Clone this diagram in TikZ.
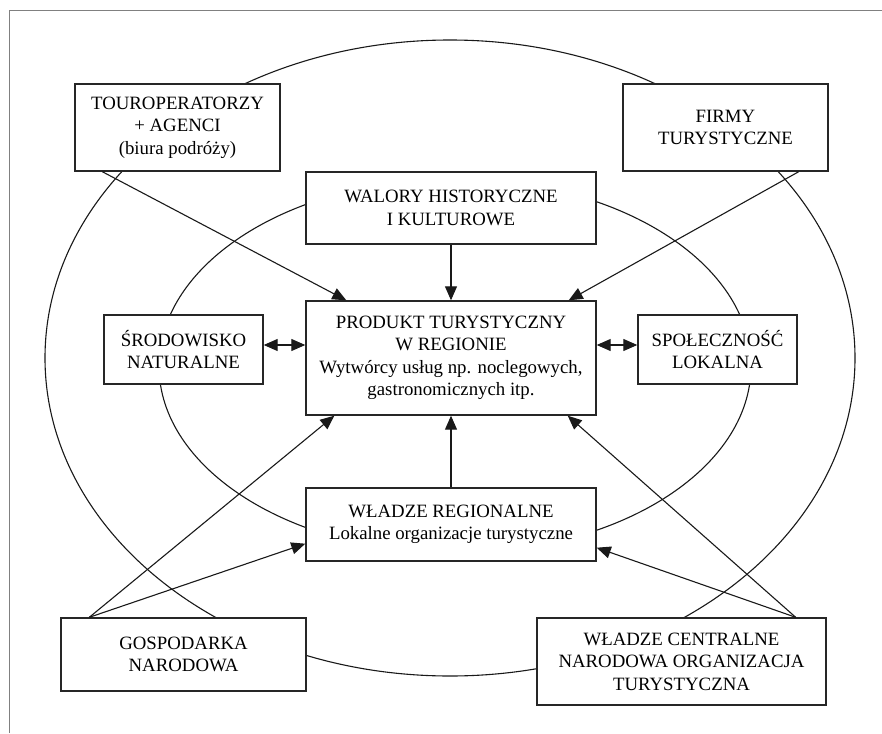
\documentclass[tikz,border=0pt]{standalone}
\usepackage{fontspec}
\setmainfont{Liberation Serif}
\usetikzlibrary{arrows.meta,calc}
\begin{document}
\begin{tikzpicture}[x=1pt,y=1pt,
  box/.style={draw=black!85, line width=1.4pt, fill=white, inner sep=0pt, align=center,
    font=\fontsize{18.8}{22.5}\selectfont},
  link/.style={line width=1.1pt, draw=black!90},
  arr/.style={link, -{Triangle[length=14pt,width=12pt]}},
  darr/.style={link, {Triangle[length=14pt,width=12pt]}-{Triangle[length=14pt,width=12pt]}}]
\useasboundingbox (0,0) rectangle (882,-733);
\draw[black!50, line width=1pt] (9,-733) -- (9,-11) -- (882,-11);
% ellipses behind the boxes
\draw[link] (450,-358) ellipse [x radius=405pt, y radius=318pt];
\draw[link] (455,-366) ellipse [x radius=296pt, y radius=187pt];
% boxes
\node[box, minimum width=205pt, minimum height=87pt] (tour) at (177.5,-127.5)
  {TOUROPERATORZY\\+ AGENCI\\(biura podróży)};
\node[box, minimum width=205pt, minimum height=87pt] (firmy) at (725.5,-127.5)
  {FIRMY\\TURYSTYCZNE};
\node[box, minimum width=290pt, minimum height=72pt] (walory) at (451,-208)
  {WALORY HISTORYCZNE\\I KULTUROWE};
\node[box, minimum width=290pt, minimum height=114pt] (prod) at (451,-358)
  {PRODUKT TURYSTYCZNY\\W REGIONIE\\Wytwórcy usług np. noclegowych,\\gastronomicznych itp.};
\node[box, minimum width=159pt, minimum height=69pt] (srod) at (183.5,-349.5)
  {ŚRODOWISKO\\NATURALNE};
\node[box, minimum width=159pt, minimum height=69pt] (spol) at (717.5,-349.5)
  {SPOŁECZNOŚĆ\\LOKALNA};
\node[box, minimum width=290pt, minimum height=73pt] (reg) at (451,-524.5)
  {WŁADZE REGIONALNE\\Lokalne organizacje turystyczne};
\node[box, minimum width=245pt, minimum height=73pt] (gosp) at (183.5,-654.5)
  {GOSPODARKA\\NARODOWA};
\node[box, minimum width=289pt, minimum height=87pt] (cent) at (681.5,-661.5)
  {WŁADZE CENTRALNE\\NARODOWA ORGANIZACJA\\TURYSTYCZNA};
% connectors
\coordinate (ym) at (0,-345);
\draw[arr] ($(tour.south west)+(28,0)$) -- ($(prod.north west)+(41,0)$);
\draw[arr] ($(firmy.south east)+(-30,0)$) -- ($(prod.north east)+(-28,0)$);
\draw[arr] (walory.south) -- (prod.north);
\draw[arr] (reg.north) -- (prod.south);
\coordinate (g0) at ($(gosp.north west)+(29,0)$);
\draw[arr] (g0) -- ($(prod.south west)+(29,0)$);
\draw[arr] (g0) -- ($(reg.south west)+(0,18)$);
\coordinate (c0) at ($(cent.north east)+(-31,0)$);
\draw[arr] (c0) -- ($(prod.south east)+(-29,0)$);
\draw[arr] (c0) -- ($(reg.south east)+(0,14)$);
\draw[darr] (srod.east |- ym) -- (prod.west |- ym);
\draw[darr] (prod.east |- ym) -- (spol.west |- ym);
\end{tikzpicture}
\end{document}
